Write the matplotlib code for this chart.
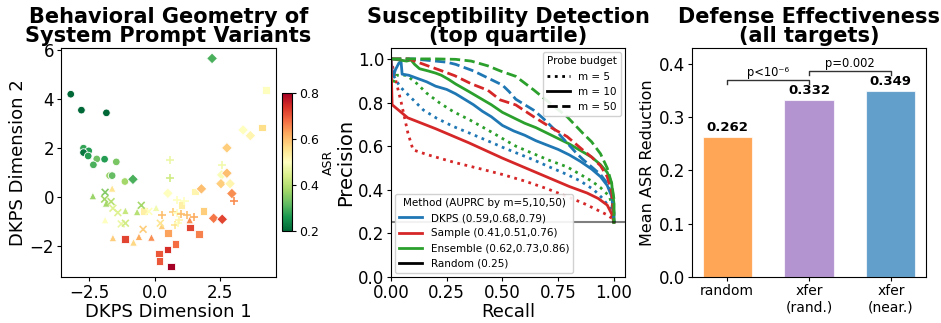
import numpy as np
import matplotlib
matplotlib.use("Agg")
import matplotlib.pyplot as plt
from matplotlib.lines import Line2D
from matplotlib.colors import Normalize
from matplotlib.cm import ScalarMappable

# ---------------- Panel 1 data: (x, y, ASR) by marker group ----------------
circ_x = [-3.22, -2.81, -1.85, -2.73, -2.53, -2.73, -2.55, -2.22, -1.92, -2.35, -1.47, -1.73, -1.63, -1.14]
circ_y = [4.19, 3.54, 3.43, 1.99, 1.88, 1.81, 1.67, 1.55, 1.54, 1.31, 1.43, 0.87, 0.87, 0.63]
circ_c = [0.18, 0.18, 0.20, 0.28, 0.27, 0.22, 0.27, 0.33, 0.27, 0.30, 0.34, 0.37, 0.32, 0.38]

tri_x = [-2.37, -1.63, -1.86, -1.12, -1.90, -0.67, 0.06, -1.60, -0.81, -0.60, -0.12, 0.28, 1.35]
tri_y = [0.04, 0.35, -0.26, -0.56, -0.94, -0.61, -0.44, -1.67, -1.85, -1.62, -1.65, -1.18, -0.94]
tri_c = [0.37, 0.55, 0.38, 0.42, 0.50, 0.40, 0.48, 0.58, 0.57, 0.62, 0.65, 0.58, 0.65]

xm_x = [-1.90, -1.92, -1.67, -1.60, -1.41, -1.28, -1.12, -0.51, -0.22, -0.44, 0.22]
xm_y = [0.19, -0.09, -0.19, -0.46, -0.64, -1.10, -1.07, -0.34, -0.59, -1.32, -1.07]
xm_c = [0.35, 0.38, 0.40, 0.45, 0.45, 0.47, 0.43, 0.38, 0.50, 0.58, 0.55]

sq_x = [-1.14, -0.41, 0.51, 0.17, 0.19, 0.49, 0.62, 0.81, 1.03, 1.56, 1.88, 1.36, 1.71, 4.12, 4.29]
sq_y = [-1.71, -0.57, -1.48, -2.30, -2.60, -2.14, -2.84, -1.93, -0.33, 0.22, -0.57, -1.25, -1.52, 2.84, 4.37]
sq_c = [0.72, 0.53, 0.63, 0.70, 0.70, 0.74, 0.82, 0.68, 0.53, 0.52, 0.58, 0.72, 0.66, 0.56, 0.50]

dia_x = [-0.83, 2.21, 0.51, 1.80, 2.58, 2.78, 2.55, 2.90, 2.97, 2.27, 2.60, 2.78, 3.40, 3.68]
dia_y = [0.72, 5.65, 0.15, 0.33, 0.90, 0.97, 0.54, 0.54, 0.14, -0.87, -0.91, 2.00, 2.73, 2.50]
dia_c = [0.30, 0.30, 0.50, 0.60, 0.49, 0.60, 0.58, 0.52, 0.65, 0.67, 0.72, 0.58, 0.50, 0.52]

pl_x = [0.58, 0.58, 2.58, 3.04, 0.28, 0.70, 0.85, 1.03, 1.26, 1.50, 0.86, 1.15, 0.77, 0.90, 0.95]
pl_y = [1.51, 0.79, 1.32, -0.16, -0.73, -0.60, -0.67, -0.69, -0.73, -0.83, -0.12, -0.15, -1.14, -1.05, -0.95]
pl_c = [0.47, 0.43, 0.48, 0.65, 0.60, 0.58, 0.50, 0.60, 0.60, 0.62, 0.50, 0.50, 0.55, 0.50, 0.52]

# ---------------- Panel 2 data: precision-recall curves ----------------
dkps5_r = [0, 0.01, 0.04, 0.10, 0.145, 0.205, 0.28, 0.354, 0.444, 0.50, 0.56, 0.64, 0.71, 0.79, 0.85, 0.91, 0.95, 0.98, 1.0, 1.0]
dkps5_p = [0.90, 0.927, 0.873, 0.812, 0.766, 0.728, 0.69, 0.659, 0.62, 0.595, 0.57, 0.537, 0.505, 0.47, 0.44, 0.40, 0.36, 0.32, 0.29, 0.25]
dkps10_r = [0, 0.005, 0.01, 0.02, 0.035, 0.045, 0.05, 0.08, 0.12, 0.16, 0.20, 0.25, 0.29, 0.33, 0.37, 0.41, 0.45, 0.50, 0.55, 0.60, 0.65, 0.70, 0.75, 0.80, 0.85, 0.90, 0.94, 0.97, 0.99, 1.0, 1.0]
dkps10_p = [1.0, 0.95, 0.92, 0.95, 0.98, 0.99, 0.93, 0.925, 0.91, 0.895, 0.875, 0.86, 0.84, 0.815, 0.79, 0.76, 0.735, 0.695, 0.67, 0.65, 0.625, 0.605, 0.585, 0.56, 0.53, 0.495, 0.46, 0.42, 0.37, 0.30, 0.25]
dkps50_r = [0, 0.10, 0.20, 0.25, 0.29, 0.33, 0.37, 0.41, 0.45, 0.50, 0.53, 0.56, 0.60, 0.64, 0.68, 0.71, 0.75, 0.79, 0.83, 0.86, 0.90, 0.94, 0.97, 0.99, 1.0]
dkps50_p = [1.0, 1.0, 0.99, 0.985, 0.975, 0.96, 0.945, 0.925, 0.905, 0.88, 0.85, 0.815, 0.79, 0.765, 0.73, 0.70, 0.66, 0.615, 0.57, 0.54, 0.505, 0.47, 0.43, 0.38, 0.25]

samp5_r = [0, 0.017, 0.046, 0.076, 0.099, 0.166, 0.286, 0.405, 0.50, 0.60, 0.70, 0.80, 0.87, 0.93, 0.97, 0.99, 1.0]
samp5_p = [1.0, 0.92, 0.80, 0.66, 0.583, 0.56, 0.525, 0.495, 0.47, 0.44, 0.405, 0.365, 0.335, 0.305, 0.285, 0.27, 0.25]
samp10_r = [0, 0.005, 0.075, 0.20, 0.35, 0.50, 0.65, 0.80, 0.88, 0.93, 0.97, 0.99, 1.0]
samp10_p = [1.0, 0.79, 0.73, 0.68, 0.615, 0.545, 0.48, 0.415, 0.385, 0.36, 0.33, 0.29, 0.25]
samp50_r = [0, 0.08, 0.12, 0.166, 0.226, 0.286, 0.36, 0.435, 0.49, 0.56, 0.64, 0.71, 0.79, 0.86, 0.90, 0.94, 0.97, 0.99, 1.0]
samp50_p = [1.0, 1.0, 0.985, 0.968, 0.946, 0.923, 0.886, 0.856, 0.812, 0.789, 0.735, 0.69, 0.644, 0.583, 0.55, 0.51, 0.46, 0.39, 0.25]

ens5_r = [0, 0.005, 0.025, 0.07, 0.115, 0.16, 0.22, 0.28, 0.354, 0.45, 0.50, 0.56, 0.64, 0.71, 0.79, 0.85, 0.90, 0.94, 0.98, 1.0, 1.0]
ens5_p = [0.90, 0.88, 0.925, 0.925, 0.888, 0.843, 0.797, 0.758, 0.72, 0.665, 0.635, 0.60, 0.565, 0.535, 0.505, 0.47, 0.44, 0.41, 0.37, 0.30, 0.25]
ens10_r = [0, 0.04, 0.07, 0.09, 0.106, 0.128, 0.166, 0.20, 0.226, 0.26, 0.29, 0.35, 0.40, 0.45, 0.50, 0.55, 0.60, 0.65, 0.70, 0.75, 0.80, 0.85, 0.90, 0.94, 0.97, 0.99, 1.0, 1.0]
ens10_p = [1.0, 0.995, 0.99, 0.995, 0.975, 0.955, 0.945, 0.935, 0.925, 0.905, 0.885, 0.85, 0.82, 0.79, 0.755, 0.73, 0.705, 0.685, 0.66, 0.635, 0.61, 0.58, 0.55, 0.515, 0.48, 0.43, 0.34, 0.25]
ens50_r = [0, 0.20, 0.29, 0.36, 0.435, 0.49, 0.56, 0.64, 0.71, 0.79, 0.86, 0.90, 0.94, 0.97, 0.99, 1.0, 1.0]
ens50_p = [1.0, 1.0, 0.998, 0.99, 0.968, 0.945, 0.92, 0.858, 0.80, 0.735, 0.66, 0.62, 0.565, 0.50, 0.43, 0.36, 0.25]

method_labels = ["DKPS (0.59,0.68,0.79)", "Sample (0.41,0.51,0.76)",
                 "Ensemble (0.62,0.73,0.86)", "Random (0.25)"]
budget_labels = ["m = 5", "m = 10", "m = 50"]
random_base = 0.25

# ---------------- Panel 3 data ----------------
bar_labels = ["random", "xfer\n(rand.)", "xfer\n(near.)"]
bar_values = [0.262, 0.332, 0.349]
sig_labels = ["p<10⁻⁶", "p=0.002"]

# ---------------- Figure ----------------
fig = plt.figure(figsize=(9.41, 3.23), dpi=100)
ax1 = fig.add_axes([0.0648, 0.1424, 0.2285, 0.709])
cax = fig.add_axes([0.2997, 0.285, 0.0106, 0.427])
ax2 = fig.add_axes([0.4155, 0.1424, 0.2487, 0.709])
ax3 = fig.add_axes([0.7354, 0.1424, 0.2487, 0.709])

for ax in (ax1, ax2, ax3):
    ax.tick_params(length=3, pad=2)

cmap = plt.get_cmap("RdYlGn_r")
norm = Normalize(vmin=0.2, vmax=0.8)
filled = dict(cmap=cmap, norm=norm, s=30, edgecolors="white", linewidths=0.6)
ax1.scatter(circ_x, circ_y, c=circ_c, marker="o", **filled)
ax1.scatter(tri_x, tri_y, c=tri_c, marker="^", **filled)
ax1.scatter(sq_x, sq_y, c=sq_c, marker="s", **filled)
ax1.scatter(dia_x, dia_y, c=dia_c, marker="D", **filled)
ax1.scatter(xm_x, xm_y, c=xm_c, marker="x", cmap=cmap, norm=norm, s=24, linewidths=1.2)
ax1.scatter(pl_x, pl_y, c=pl_c, marker="+", cmap=cmap, norm=norm, s=34, linewidths=1.2)
ax1.set_xlabel("DKPS Dimension 1", fontsize=13, labelpad=1)
ax1.set_ylabel("DKPS Dimension 2", fontsize=13, labelpad=2)
ax1.set_xticks([-2.5, 0.0, 2.5])
ax1.set_yticks([-2, 0, 2, 4, 6])
ax1.tick_params(labelsize=12)
ax1.set_title("Behavioral Geometry of\nSystem Prompt Variants", fontsize=15,
              fontweight="bold", linespacing=0.95, pad=4)

cb = fig.colorbar(ScalarMappable(norm=norm, cmap=cmap), cax=cax)
cb.set_ticks([0.2, 0.4, 0.6, 0.8])
cb.ax.tick_params(labelsize=9, length=3, pad=2)
cb.set_label("ASR", fontsize=9, labelpad=2)

# Panel 2
blue, red, green = "#1f77b4", "#d62728", "#2ca02c"
lw = 2.0
ax2.plot(dkps5_r, dkps5_p, color=blue, ls=":", lw=lw)
ax2.plot(samp5_r, samp5_p, color=red, ls=":", lw=lw)
ax2.plot(ens5_r, ens5_p, color=green, ls=":", lw=lw)
ax2.plot(dkps10_r, dkps10_p, color=blue, ls="-", lw=lw)
ax2.plot(samp10_r, samp10_p, color=red, ls="-", lw=lw)
ax2.plot(ens10_r, ens10_p, color=green, ls="-", lw=lw)
ax2.plot(dkps50_r, dkps50_p, color=blue, ls="--", lw=lw)
ax2.plot(samp50_r, samp50_p, color=red, ls="--", lw=lw)
ax2.plot(ens50_r, ens50_p, color=green, ls="--", lw=lw)
ax2.axhline(random_base, color="black", alpha=0.5, lw=1.5)
ax2.set_xlim(0, 1.05)
ax2.set_ylim(0, 1.05)
ax2.set_xticks([0.0, 0.25, 0.5, 0.75, 1.0])
ax2.set_yticks([0.0, 0.2, 0.4, 0.6, 0.8, 1.0])
ax2.tick_params(labelsize=12)
ax2.set_xlabel("Recall", fontsize=13, labelpad=1)
ax2.set_ylabel("Precision", fontsize=14, labelpad=2)
ax2.set_title("Susceptibility Detection\n(top quartile)", fontsize=15,
              fontweight="bold", linespacing=0.95, pad=4)

m_handles = [Line2D([], [], color=c, lw=2) for c in [blue, red, green, "black"]]
leg1 = ax2.legend(m_handles, method_labels, title="Method (AUPRC by m=5,10,50)",
                  loc="lower left", fontsize=7.5, title_fontsize=7.5,
                  framealpha=0.9, borderaxespad=0.4, handlelength=2.2)
ax2.add_artist(leg1)
b_handles = [Line2D([], [], color="black", lw=2, ls=s) for s in [":", "-", "--"]]
ax2.legend(b_handles, budget_labels, title="Probe budget", loc="upper right",
           fontsize=7.5, title_fontsize=7.5, framealpha=0.9, borderaxespad=0.4,
           handlelength=2.2)

# Panel 3
bar_colors = ["#ff7f0e", "#9467bd", "#1f77b4"]
xpos = np.arange(len(bar_values))
ax3.bar(xpos, bar_values, width=0.6, color=bar_colors, alpha=0.7,
        edgecolor="white", linewidth=0.8)
for xi, v in zip(xpos, bar_values):
    ax3.text(xi, v + 0.006, f"{v:.3f}", ha="center", va="bottom",
             fontsize=9.5, fontweight="bold")
ax3.set_xticks(xpos)
ax3.set_xticklabels(bar_labels, fontsize=10)
ax3.set_ylim(0, 0.43)
ax3.set_yticks([0.0, 0.1, 0.2, 0.3, 0.4])
ax3.tick_params(axis="y", labelsize=12)
ax3.set_ylabel("Mean ASR Reduction", fontsize=11.5, labelpad=3)
ax3.set_title("Defense Effectiveness\n(all targets)", fontsize=15,
              fontweight="bold", linespacing=0.95, pad=4)

def bracket(ax, x0, x1, y, h, text):
    ax.plot([x0, x0, x1, x1], [y - h, y, y, y - h], color="#333333", lw=1.0)
    ax.text((x0 + x1) / 2, y + 0.002, text, ha="center", va="bottom", fontsize=8.3)

bracket(ax3, 0, 1, 0.370, 0.008, sig_labels[0])
bracket(ax3, 1, 2, 0.387, 0.008, sig_labels[1])

fig.savefig("out.png", dpi=100)
